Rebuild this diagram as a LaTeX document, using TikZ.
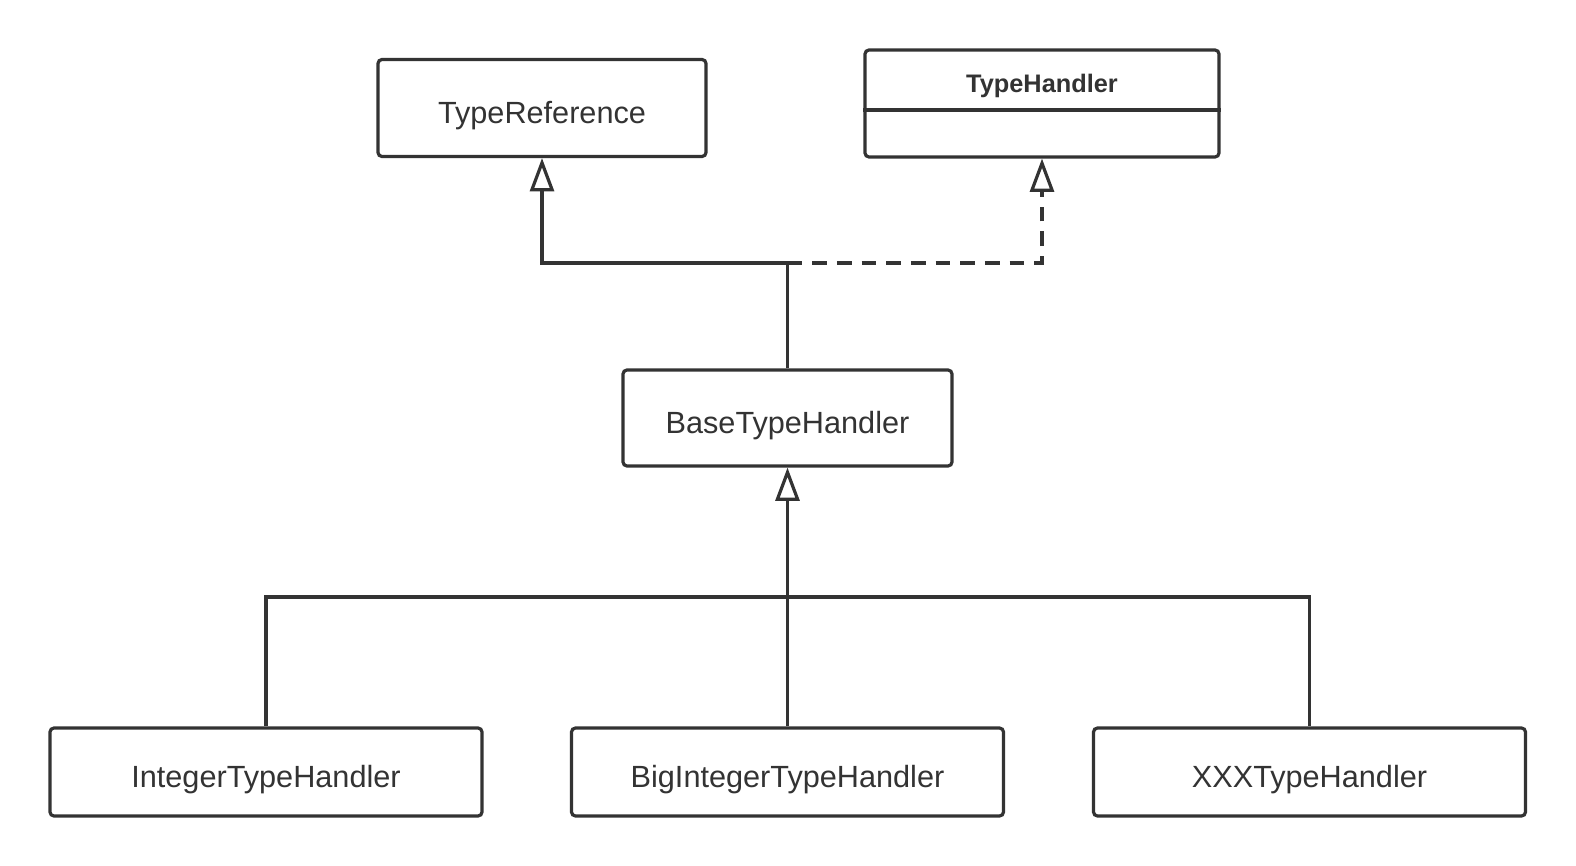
\documentclass[tikz,border=0pt]{standalone}
\usepackage{fontspec}
\setmainfont{Liberation Sans}
\usepackage{xcolor}
\usetikzlibrary{arrows.meta}
\definecolor{ink}{HTML}{333333}

\begin{document}
\begin{tikzpicture}[x=0.75pt,y=-0.75pt,
  box/.style={draw=ink, line width=2.4pt, rounded corners=3pt, fill=white, text=ink,
    text height=23pt, text depth=0pt, font=\fontsize{23}{26}\selectfont},
  link/.style={draw=ink, line width=2.4pt},
  inherit/.style={link, -{Triangle[open, length=25pt, width=18pt, line width=2.4pt]}},
  realize/.style={inherit, dash pattern=on 11pt off 7.5pt}]
\useasboundingbox (0,0) rectangle (1576,866);
% classes
\node[box, minimum width=246pt, minimum height=72.75pt] (tref) at (542,108) {TypeReference};
\node[box, minimum width=265.5pt, minimum height=80.25pt] (thandler) at (1042,103.5) {};
\node[text=ink, font=\fontsize{19}{22}\selectfont\bfseries] (thname) at (1042,86) {TypeHandler};
\draw[link] (thandler.west |- 0,110) -- (thandler.east |- 0,110);
\node[box, minimum width=246.75pt, minimum height=72pt] (base) at (787.5,418) {BaseTypeHandler};
\node[box, minimum width=324pt, minimum height=66pt] (int) at (266,772) {IntegerTypeHandler};
\node[box, minimum width=324pt, minimum height=66pt] (big) at (787.5,772) {BigIntegerTypeHandler};
\node[box, minimum width=324pt, minimum height=66pt] (xxx) at (1309.5,772) {XXXTypeHandler};
\coordinate (top) at (787.5,263);
\coordinate (bus) at (787.5,597);
% relations
\draw[inherit] (base.north) -- (top) -| (tref.south);
\draw[realize] (top) -| (thandler.south);
\draw[inherit] (big.north) -- (base.south);
\draw[link] (int.north) |- (bus) -| (xxx.north);
\end{tikzpicture}
\end{document}
